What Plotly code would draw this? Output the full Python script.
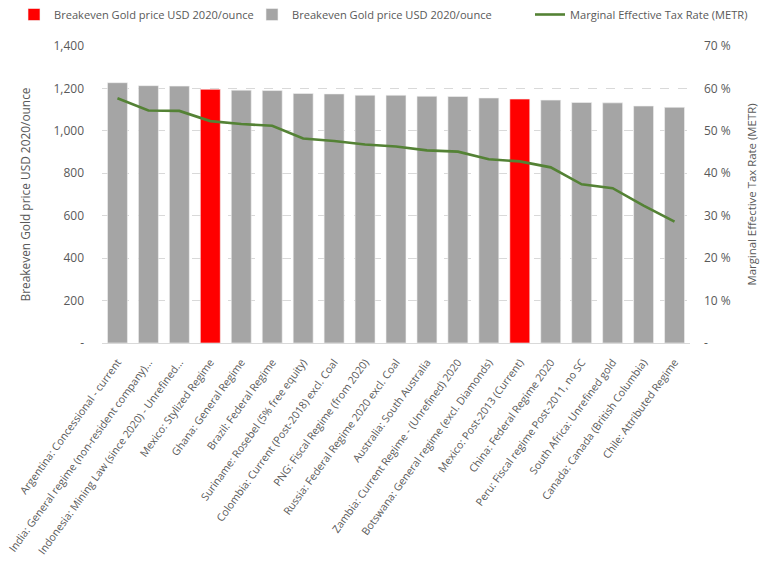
import plotly.graph_objects as go

categories = [
    "Argentina: Concessional - current",
    "India: General regime (non-resident company)...",
    "Indonesia: Mining Law (since 2020) - Unrefined...",
    "Mexico: Stylized Regime",
    "Ghana: General Regime",
    "Brazil: Federal Regime",
    "Suriname: Rosebel (5% free equity)",
    "Colombia: Current (Post-2018) excl. Coal",
    "PNG: Fiscal Regime (from 2020)",
    "Russia: Federal Regime 2020 excl. Coal",
    "Australia: South Australia",
    "Zambia: Current Regime - (Unrefined) 2020",
    "Botswana: General regime (excl. Diamonds)",
    "Mexico: Post-2013 (Current)",
    "China: Federal Regime 2020",
    "Peru: Fiscal regime Post-2011, no SC",
    "South Africa: Unrefined gold",
    "Canada: Canada (British Columbia)",
    "Chile: Attributed Regime",
]
breakeven = [1227, 1213, 1211, 1196, 1192, 1190, 1176, 1174, 1168, 1168,
             1163, 1162, 1155, 1150, 1145, 1134, 1132, 1117, 1111]
highlight = [False, False, False, True, False, False, False, False, False, False,
             False, False, False, True, False, False, False, False, False]
metr = [57.7, 54.8, 54.7, 52.3, 51.6, 51.2, 48.2, 47.6, 46.8, 46.3,
        45.4, 45.1, 43.3, 42.8, 41.4, 37.4, 36.5, 32.4, 28.6]

left_ticks = [0, 200, 400, 600, 800, 1000, 1200, 1400]
left_ticktext = ["-", "200", "400", "600", "800", "1,000", "1,200", "1,400"]
right_ticks = [0, 10, 20, 30, 40, 50, 60, 70]
right_ticktext = ["-", "10 %", "20 %", "30 %", "40 %", "50 %", "60 %", "70 %"]

red_vals = [v if h else None for v, h in zip(breakeven, highlight)]
gray_vals = [None if h else v for v, h in zip(breakeven, highlight)]

FONT = "Open Sans"
GREY_TXT = "#595959"

fig = go.Figure()
fig.add_trace(go.Bar(
    x=categories, y=red_vals, name="Breakeven Gold price USD 2020/ounce",
    marker=dict(color="#ff0000", line=dict(color="#f2f2f2", width=0.6)),
    legend="legend",
))
fig.add_trace(go.Bar(
    x=categories, y=gray_vals, name="Breakeven Gold price USD 2020/ounce",
    marker=dict(color="#a5a5a5", line=dict(color="#f2f2f2", width=0.6)),
    legend="legend2",
))
fig.add_trace(go.Scatter(
    x=categories, y=metr, name="Marginal Effective Tax Rate (METR)",
    mode="lines", line=dict(color="#548235", width=2.6), yaxis="y2",
    legend="legend3",
))

def leg(xpx):
    return dict(
        orientation="h", xref="container", yref="container",
        x=xpx / 761, y=1.0, xanchor="left", yanchor="top",
        font=dict(size=11.1, color=GREY_TXT, family=FONT),
        itemwidth=30, bgcolor="rgba(0,0,0,0)",
    )

fig.update_layout(
    width=761, height=561,
    margin=dict(l=101.5, r=70.5, t=46, b=218, autoexpand=False),
    paper_bgcolor="white", plot_bgcolor="white",
    barmode="overlay", bargap=0.355,
    font=dict(family=FONT, color=GREY_TXT, size=12),
    showlegend=True,
    legend=leg(14),
    legend2=leg(252),
    legend3=leg(530),
    xaxis=dict(
        type="category", tickangle=-54, automargin=False,
        tickfont=dict(size=10.6, color=GREY_TXT),
        showline=True, linecolor="#d9d9d9", linewidth=1,
        ticks="", showgrid=False, ticklabelstandoff=8,
    ),
    yaxis=dict(
        range=[0, 1400], tickvals=left_ticks, ticktext=left_ticktext,
        tickfont=dict(size=12, color=GREY_TXT), automargin=False,
        showgrid=True, gridcolor="#d9d9d9", griddash="dash", gridwidth=1,
        zeroline=False, ticklabelstandoff=17,
        title=dict(text="Breakeven Gold price USD 2020/ounce",
                   font=dict(size=11.9, color=GREY_TXT), standoff=20),
    ),
    yaxis2=dict(
        range=[0, 70], tickvals=right_ticks, ticktext=right_ticktext,
        overlaying="y", side="right", showgrid=False, zeroline=False,
        automargin=False,
        tickfont=dict(size=12, color=GREY_TXT), ticklabelstandoff=13,
        title=dict(text="Marginal Effective Tax Rate (METR)",
                   font=dict(size=11.4, color=GREY_TXT), standoff=18),
    ),
)

fig.write_html("out.html", config={"displayModeBar": False},
               post_script="document.body.style.margin='0';")
